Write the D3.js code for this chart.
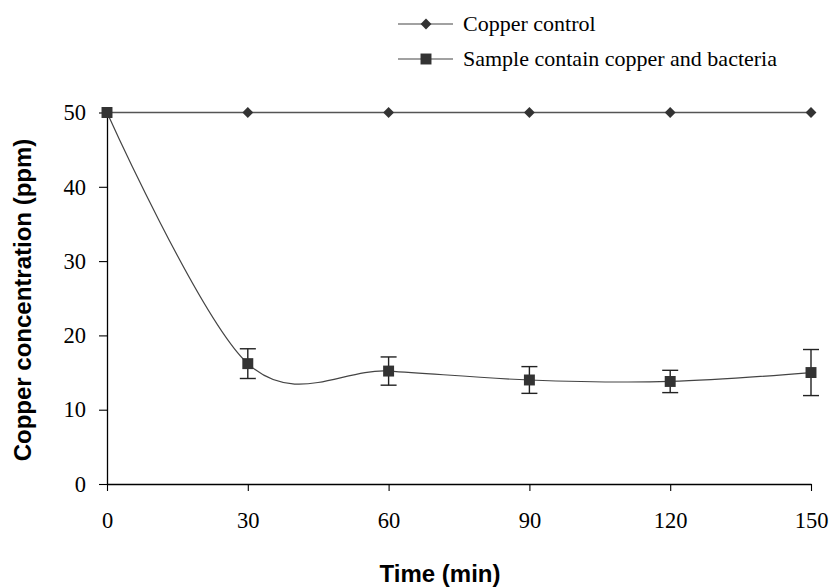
<!DOCTYPE html>
<html>
<head>
<meta charset="utf-8">
<script src="https://cdn.jsdelivr.net/npm/d3@7"></script>
<style>
  body { margin: 0; background: #fff; }
  svg { display: block; }
</style>
</head>
<body>
<div id="vizArea"></div>
<script>
var w = 832
var h = 587

// DATA ********************************
var times = [0, 30, 60, 90, 120, 150];
var controlValues = [50, 50, 50, 50, 50, 50];
var sampleValues = [50, 16.2, 15.2, 14.0, 13.8, 15.0];
var sampleErrors = [0, 2.0, 1.9, 1.8, 1.5, 3.1];
var xTicks = [0, 30, 60, 90, 120, 150];
var yTicks = [0, 10, 20, 30, 40, 50];
var seriesNames = ["Copper control", "Sample contain copper and bacteria"];

var svg = d3.select("#vizArea").append("svg")
    .attr("width", w)
    .attr("height", h);

// scales
var x = d3.scaleLinear().domain([0, 150]).range([107, 811]);
var y = d3.scaleLinear().domain([0, 50]).range([484, 112.5]);

var serif = "'Liberation Serif', 'Times New Roman', serif";
var sans = "'Liberation Sans', Arial, sans-serif";

// AXES ********************************
var xAxis = svg.append("g")
    .attr("transform", "translate(0," + y(0) + ")")
    .call(d3.axisBottom(x).tickValues(xTicks).tickSize(7).tickPadding(21).tickSizeOuter(0));

var yAxis = svg.append("g")
    .attr("transform", "translate(" + x(0) + ",0)")
    .call(d3.axisLeft(y).tickValues(yTicks).tickSize(8).tickPadding(13).tickSizeOuter(0));

[xAxis, yAxis].forEach(function(ax) {
    ax.select(".domain").attr("stroke", "#000").attr("stroke-width", 1.3);
    ax.selectAll(".tick line").attr("stroke", "#000").attr("stroke-width", 1.1);
    ax.selectAll("text")
        .attr("fill", "#000")
        .style("font-family", serif)
        .style("font-size", "22.5px");
});

// axis titles
svg.append("text")
    .attr("x", 440)
    .attr("y", 582)
    .attr("text-anchor", "middle")
    .style("font-family", sans)
    .style("font-weight", "bold")
    .style("font-size", "24px")
    .text("Time (min)");

svg.append("text")
    .attr("transform", "translate(31,300) rotate(-90)")
    .attr("text-anchor", "middle")
    .style("font-family", sans)
    .style("font-weight", "bold")
    .style("font-size", "24px")
    .text("Copper concentration (ppm)");

// SERIES ********************************
var control = times.map(function(t, i) { return {t: t, v: controlValues[i]}; });
var sample = times.map(function(t, i) { return {t: t, v: sampleValues[i], e: sampleErrors[i]}; });

var straightLine = d3.line()
    .x(function(d) { return x(d.t); })
    .y(function(d) { return y(d.v); });

var smoothLine = d3.line()
    .x(function(d) { return x(d.t); })
    .y(function(d) { return y(d.v); })
    .curve(d3.curveCardinal.tension(0));

svg.append("path")
    .datum(control)
    .attr("d", straightLine)
    .attr("fill", "none")
    .attr("stroke", "#555")
    .attr("stroke-width", 1.3);

svg.append("path")
    .datum(sample)
    .attr("d", smoothLine)
    .attr("fill", "none")
    .attr("stroke", "#444")
    .attr("stroke-width", 1.2);

// error bars
var errs = svg.append("g").selectAll("g")
    .data(sample.filter(function(d) { return d.e > 0; }))
    .enter()
    .append("g")
    .attr("stroke", "#222")
    .attr("stroke-width", 1.4);

errs.append("line")
    .attr("x1", function(d) { return x(d.t); })
    .attr("x2", function(d) { return x(d.t); })
    .attr("y1", function(d) { return y(d.v + d.e); })
    .attr("y2", function(d) { return y(d.v - d.e); });

[1, -1].forEach(function(s) {
    errs.append("line")
        .attr("x1", function(d) { return x(d.t) - 8; })
        .attr("x2", function(d) { return x(d.t) + 8; })
        .attr("y1", function(d) { return y(d.v + s * d.e); })
        .attr("y2", function(d) { return y(d.v + s * d.e); });
});

// markers
var diamond = d3.symbol().type(d3.symbolDiamond2).size(75);
var square = d3.symbol().type(d3.symbolSquare).size(120);

svg.append("g").selectAll("path")
    .data(control)
    .enter()
    .append("path")
    .attr("transform", function(d) { return "translate(" + x(d.t) + "," + y(d.v) + ")"; })
    .attr("d", diamond)
    .attr("fill", "#333");

svg.append("g").selectAll("path")
    .data(sample)
    .enter()
    .append("path")
    .attr("transform", function(d) { return "translate(" + x(d.t) + "," + y(d.v) + ")"; })
    .attr("d", square)
    .attr("fill", "#333");

// LEGEND ********************************
var legend = svg.append("g").selectAll("g")
    .data(seriesNames)
    .enter()
    .append("g")
    .attr("transform", function(d, i) { return "translate(398," + (24 + i * 35) + ")"; });

legend.append("line")
    .attr("x1", 0).attr("x2", 55)
    .attr("stroke", "#444")
    .attr("stroke-width", 1.2);

legend.append("path")
    .attr("transform", "translate(28,0)")
    .attr("d", function(d, i) { return i === 0 ? diamond() : square(); })
    .attr("fill", "#333");

legend.append("text")
    .attr("x", 65)
    .attr("dy", "0.32em")
    .style("font-family", serif)
    .style("font-size", "22px")
    .text(function(d) { return d; });
</script>
</body>
</html>
